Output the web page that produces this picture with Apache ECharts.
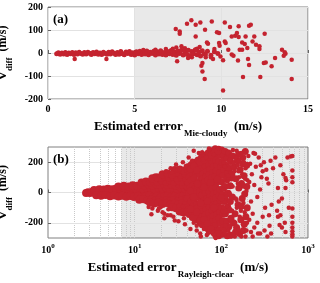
<!DOCTYPE html>
<html><head><meta charset="utf-8">
<script src="https://cdn.jsdelivr.net/npm/echarts@6/dist/echarts.min.js"></script>
<style>html,body{margin:0;padding:0;background:#fff}#c{width:320px;height:283px}</style>
</head><body><div id="c"></div>
<script>
// ---------- data ----------
const xTicksA = [0, 5, 10, 15];
const yTicksA = [-200, -100, 0, 100, 200];
const yTicksB = [-200, 0, 200];
const shadeA = [5, 15];
const shadeB = [7, 1000];
const minorGridB = [2,3,4,5,6,7,8,9,10,20,30,40,50,60,70,80,90,100,200,300,400,500,600,700,800,900];

// panel (a): dense band of points
const aBand = [
[0.5,-3],[0.6,1],[0.7,-5],[0.8,0],[0.9,-4],[1.0,2],[1.1,-6],[1.2,0],[1.3,-3],[1.4,2],[1.5,-6],[1.6,1],[1.7,-4],[1.8,3],[1.9,-2],[2.0,-5],
[2.1,2],[2.2,-4],[2.3,3],[2.4,-1],[2.5,-6],[2.6,2],[2.7,-3],[2.8,4],[2.9,-5],[3.0,0],[3.1,-6],[3.2,3],[3.3,-2],[3.4,-5],[3.5,3],[3.6,-4],
[3.7,5],[3.8,-1],[3.9,-6],[4.0,2],[4.1,-5],[4.2,6],[4.3,-3],[4.4,-8],[4.5,4],[4.6,-2],[4.7,7],[4.8,-6],[4.9,1],[5.0,-9],[5.1,5],[5.2,-3],
[5.3,8],[5.4,-7],[5.5,2],[5.6,-4],[5.7,9],[5.8,-8],[5.9,3],[6.0,-2],[6.1,8],[6.2,-9],[6.3,5],[6.4,-4],[6.5,10],[6.6,-6],[6.7,2],[6.8,-9],
[6.9,7],[7.0,-3],[7.1,11],[7.2,-7],[7.3,4],[7.4,-10],[7.5,9],[7.6,-2],[7.7,12],[7.8,-9],[7.9,5],[8.0,-5],[8.1,12],[8.2,-11],[8.3,7],[8.4,-3],
[8.5,14],[8.6,-8],[8.7,4],[8.8,-13],[8.9,10],[9.0,-4],[9.2,8],[9.4,-10],[9.6,5],[9.8,-2]
];
// panel (a): scattered points
const aScatter = [
[1.54,-26],[3.37,-26],[5.5,13],[6.2,14],[6.8,17],[7.2,19],[7.9,21],[8.3,-19],[8.6,19],[9.1,-19],[9.6,17],
[8.02,127],[8.27,142],[8.52,123],[8.79,133],[9.45,137],[10.2,133],[7.37,104],[7.6,94],[7.6,84],[8.52,72],
[9.06,101],[9.75,90],[9.87,87],[10.5,113],[11.0,116],[11.6,119],[11.7,123],[10.9,87],[10.8,75],[10.6,72],
[11.0,70],[11.4,72],[11.9,72],[12.5,84],[10.2,50],[10.25,43],[9.17,46],[9.23,40],[9.87,43],[9.9,32],
[11.2,46],[11.35,39],[11.8,50],[12.0,36],[12.2,29],[11.5,22],[11.06,14],[11.2,14],[12.2,17],[10.4,14],
[13.5,14],[13.66,3],[13.7,-3],[13.6,-12],[13.1,-22],[14.06,-29],[12.45,-43],[12.56,-41],[12.9,-58],
[11.54,-26],[11.6,-52],[10.96,-33],[10.6,-7],[10.7,-12],[10.1,-32],[9.95,-15],[8.91,-43],[8.85,-55],
[8.91,-80],[9.04,-113],[11.25,-104],[12.25,-104],[14.06,-113],[10.1,-163],[7.45,-36],[8.08,-22],
[9.52,-26],[9.1,-8],[9.4,-18],[7.7,29],[7.4,24],[8.75,26],[8.52,14]
];

// panel (b): dense core (x < ~45)
const bCore = [
[2.75,-3],[2.9,2],[3.05,-4],[3.2,3],[3.4,-2],[3.6,5],[3.8,-1],[4.0,3],[4.25,-4],[4.5,6],[4.8,-2],[5.1,4],[5.4,-5],[5.7,3],[6.0,-1],
[6.4,5],[6.8,-4],[7.2,2],[7.7,-6],[8.2,4],[8.7,0],[9.3,-3],[9.9,6],[10.5,-5],[11.2,2],[12,-4],[12.8,7],[13.6,-2],[14.5,3],[15.5,-6],
[16.5,5],[17.6,-1],[18.8,-4],[20,8],[21.5,-3],[23,2],[24.5,-7],[26,4],[28,-2],[30,6],[32,-5],[34,3],[37,-8],[40,2],
[3.4,17],[3.9,22],[4.4,19],[4.9,25],[5.5,21],[6.1,27],[6.8,23],[7.6,28],[8.4,24],[9.3,30],[10.3,26],[11.4,29],[12.6,24],[14,31],
[15.5,27],[17,22],[19,30],[21,26],[23,33],[25.5,25],[28,29],[31,23],[34,32],[38,27],[42,24],
[3.6,-18],[4.1,-21],[4.6,-17],[5.2,-24],[5.8,-20],[6.5,-26],[7.2,-22],[8,-28],[8.9,-23],[9.8,-30],[10.9,-25],[12,-31],[13.3,-26],
[14.8,-22],[16.3,-29],[18,-24],[20,-32],[22,-27],[24,-23],[26.5,-30],[29,-26],[32,-33],[36,-24],[40,-28],
[6.5,40],[7.5,44],[8.5,40],[9.5,47],[10.6,44],[11.8,50],[13,46],[14.5,53],[16,48],[17.8,55],[19.6,50],[21.8,57],[24,49],[26.5,54],[29.5,47],
[32.5,56],[36,51],[40,45],[45,53],
[11.3,-48],[12.6,-45],[14,-52],[15.6,-48],[17.3,-55],[19.1,-50],[21.2,-57],[23.4,-51],[25.8,-56],[28.5,-49],
[31.5,-58],[35,-52],[39,-47],[44,-55],
[12,66],[13.5,72],[15,68],[16.5,76],[18.5,70],[20.5,78],[23,72],[25.5,80],[28.5,73],[32,79],[36,70],[40,77],
[16,94],[18,100],[20,96],[22.5,104],[25,98],[28,102],[31,95],[35,103],[39,97],
[21,120],[24,126],[27,118],[30.5,128],[34,121],[38,127],
[29,148],[33,152],[37,145],[41,155],
[15,-66],[16.8,-72],[18.8,-68],[21,-75],[23.5,-70],[26,-78],[29,-72],[32,-77],[35.5,-70],[39.5,-76],
[27,-98],[30,-104],[33.5,-97],[37,-105],[41,-100],
[33,-125],[37,-130],[41,-124]
];
// panel (b): dense middle (x ~ 40-200)
const bMid = [
[41,170],[43,135],[42.5,100],[41.5,65],[43.5,30],[42,-5],[40.5,-40],[43,-75],[41.8,-110],[42.6,-145],
[45,185],[47.5,150],[46.5,118],[44.8,82],[47,48],[45.5,12],[46.8,-22],[44.5,-58],[47.2,-92],[45.8,-128],[46.3,-165],
[49,200],[51.5,165],[50.5,130],[48.5,96],[52,60],[49.5,25],[51,-10],[48.8,-45],[51.8,-80],[50.2,-115],[49.2,-150],[51.2,-182],
[54,215],[56.5,180],[53.5,145],[57,110],[55.5,75],[53.8,40],[56,5],[54.5,-30],[57.2,-65],[53.6,-100],[55.8,-135],[54.2,-170],[56.8,-198],
[59,232],[61.5,196],[58.5,160],[62,124],[60.5,90],[58.8,54],[61,18],[59.5,-18],[62.2,-54],[58.6,-90],[60.8,-125],[59.2,-160],[61.8,-195],[60.2,-212],
[64.5,248],[67.5,212],[65,176],[68,140],[66.5,104],[64.2,68],[67,32],[65.5,-4],[68.2,-40],[64.8,-76],[66.8,-112],[65.2,-148],[67.8,-184],[66,-226],
[70.5,262],[73.5,226],[71,190],[74,154],[72.5,118],[70.2,82],[73,46],[71.5,10],[74.2,-26],[70.8,-62],[72.8,-98],[71.2,-134],[73.8,-170],[72,-206],[70.6,-242],
[77,276],[80.5,240],[78,204],[81,168],[79.5,132],[77.2,96],[80,60],[78.5,24],[81.2,-12],[77.8,-48],[79.8,-84],[78.2,-120],[80.8,-156],[79,-192],[77.6,-228],[80.2,-258],
[85,288],[88.5,250],[86,214],[89,178],[87.5,142],[85.2,106],[88,70],[86.5,34],[89.2,-2],[85.8,-38],[87.8,-74],[86.2,-110],[88.8,-146],[87,-182],[85.6,-218],[88.2,-254],[86.8,-285],
[93,285],[97,245],[94,205],[98,170],[95.5,130],[92.5,95],[96.5,20],[94.5,-20],[97.5,-55],[93.5,-95],[96,-130],[94.2,-170],[97.8,-205],[95,-245],[93.2,-285],
[101,280],[106,238],[103,198],[107,150],[104.5,112],[100.5,70],[105.5,28],[102.5,-15],[107.5,-60],[101.5,-100],[105,-142],[103.5,-186],[106.5,-230],[102,-275],
[111,270],[117,225],[113,180],[118,128],[115,85],[110.5,40],[116,-8],[112.5,-52],[118.5,-96],[111.5,-140],[115.5,-190],[113.5,-240],[117,-285],
[121,260],[128,205],[124,150],[130,95],[126,45],[120,-5],[127,-60],[123,-115],[129,-170],[122,-225],[126.5,-280],
[44,155],[44,-110],[48,175],[48,-165],[52,-130],[52,147],[57,200],[57,-185],[63,215],[63,-178],[69,230],[69,-205],[76,245],[76,-240],
[83,262],[83,-268],[91,272],[91,-270],[44,12],[48,-28],[53,58],[58,-70],[63,35],[69,-58],[75,66],[82,-100],[90,88],[100,-35],[108,-120],[120,165],
[135,240],[138,-200],[141,170],[144,-140],[147,90],[150,-230],[153,210],[156,-80],[159,30],[162,-270],[165,150],[168,-180],[171,60],
[174,-40],[177,230],[180,-250],[183,110],[186,-10],[189,270],[192,-160],[196,180],[199,-100],[134,-30],[146,-260],[158,250],[170,-90],
[184,-210],[197,40],[132,120],[176,190]
];
// panel (b): scattered points
const bScatter = [
[15.6,-144],[19,-105],[16,-105],[18.5,-120],[20,-95],[22,-140],[24.5,-110],[26,-150],[14.5,-95],
[17,110],[21,-130],[23,140],[18,85],[24,-150],[22,-170],
[26,160],[28,-160],[30,185],[32,-190],[27,130],[33,150],[35,-140],[36,200],[38,-210],[29,-185],[31,120],[34,-125],[39,175],[37,-170],
[42,230],[44,-240],[46,210],[48,-200],[52,-220],[55,260],[57,-270],[58,-290],[48,275],[52,-250],[60,265],
[62,220],[63,-240],[67,233],[68,-280],[72,290],[82,250],[84,-280],[86,-300],[92,290],[70,-270],
[102,245],[104,-280],[106,200],[108,-150],[110,170],[112,-220],[114,130],[116,-90],[118,260],[120,-250],[122,90],[124,-60],[126,220],
[128,-180],[130,50],[133,-120],[136,280],[139,-270],[142,140],[145,-200],[148,230],[151,-100],[154,180],[157,-240],[160,100],
[163,-160],[166,250],[170,-290],[174,120],[178,-210],[182,200],[186,-130],[190,160],[195,-250],[200,80],[105,20],[115,-30],
[125,-10],[135,40],[150,-50],[165,30],[180,-70],[195,10],[110,-270],[130,-290],[150,275],[170,260],[190,-290],[120,110],[140,-150],
[160,210],[180,40],[107,-100],[117,75],[127,-220],[137,195],[147,-40],[158,140],[168,-120],[188,90],[198,-200],[143,-290],[155,60],
[205,240],[210,-180],[215,190],[220,-260],[225,120],[230,-140],[235,260],[240,-230],[250,170],[260,-200],[270,230],[280,-270],
[290,100],[300,-160],[310,200],[320,-100],[330,150],[340,-290],[350,60],[360,-220],[370,210],[380,-80],[240,50],[260,-30],
[280,20],[300,140],[220,-60],[245,255],[265,-270],[285,180],[315,-250],[335,90],[355,-150],[375,-270],[395,160],[210,70],[230,-290],
[420,230],[440,-120],[460,-60],[480,180],[500,-230],[520,120],[540,-200],[560,80],[580,230],[630,238],[550,95],[550,30],
[450,-160],[480,-150],[470,-215],[600,-100],[450,30],[500,-40],[550,-260],
[660,240],[660,145],[660,100],[660,68],[660,-105],[660,-160],[660,-200],[660,-230],[660,-255],[660,-275],[660,-290]
];

// ---------- chart ----------
const SERIF = '"Liberation Serif", "DejaVu Serif", serif';
const RED = '#c4232f';
const labelStyle = {fontFamily: SERIF, fontWeight: 'bold', fontSize: 10, color: '#000'};
const tickStyle = {show: true, inside: true, length: 3, lineStyle: {color: '#666', width: 1}};
const gridLine = {show: true, lineStyle: {color: '#e2e2e2', width: 1}};
const dotStyle = {color: RED, opacity: 1, borderWidth: 0};

function xName(sub) {
  return '{t|Estimated error}{s|' + sub + '}{t|  (m/s)}';
}
const xNameRich = {
  t: {fontFamily: SERIF, fontWeight: 'bold', fontSize: 13, color: '#000'},
  s: {fontFamily: SERIF, fontWeight: 'bold', fontSize: 9, color: '#000', padding: [14, 0, 0, 1]}
};
const yNameText = '{v|V}{s|diff}{u|  (m/s)}';
const yNameRich = {
  v: {fontFamily: SERIF, fontWeight: 'bold', fontSize: 13, color: '#000'},
  s: {fontFamily: SERIF, fontWeight: 'bold', fontSize: 9, color: '#000', padding: [13, 0, 0, 0]},
  u: {fontFamily: SERIF, fontWeight: 'bold', fontSize: 12, color: '#000'}
};

const chart = echarts.init(document.getElementById('c'), null, {renderer: 'canvas'});
chart.setOption({
  animation: false,
  backgroundColor: '#fff',
  grid: [
    {left: 48, top: 7, width: 260, height: 92, show: true, borderColor: '#808080', borderWidth: 1, backgroundColor: '#fff',
     containLabel: false, outerBoundsMode: 'none'},
    {left: 48, top: 147, width: 260, height: 91, show: true, borderColor: '#808080', borderWidth: 1, backgroundColor: '#fff',
     containLabel: false, outerBoundsMode: 'none'}
  ],
  xAxis: [
    {gridIndex: 0, type: 'value', min: xTicksA[0], max: xTicksA[xTicksA.length - 1], interval: 5, z: 1.5,
     axisLine: {show: false}, axisTick: tickStyle, axisLabel: Object.assign({margin: 5}, labelStyle),
     splitLine: gridLine,
     name: xName('Mie-cloudy'), nameLocation: 'middle', nameGap: 16,
     nameTextStyle: {rich: xNameRich}},
    {gridIndex: 1, type: 'log', logBase: 10, min: 1, max: 1000, z: 1.5,
     axisLine: {show: false}, axisTick: tickStyle,
     axisLabel: {margin: 5, formatter: function (v) {
        return '{b|10}{e|' + Math.round(Math.log10(v)) + '}';
      }, rich: {
        b: {fontFamily: SERIF, fontWeight: 'bold', fontSize: 10, color: '#000'},
        e: {fontFamily: SERIF, fontWeight: 'bold', fontSize: 7, color: '#000', padding: [0, 0, 8, 0]}
      }},
     splitLine: {show: false},
     name: xName('Rayleigh-clear'), nameLocation: 'middle', nameGap: 18,
     nameTextStyle: {rich: xNameRich}}
  ],
  yAxis: [
    {gridIndex: 0, type: 'value', min: yTicksA[0], max: yTicksA[yTicksA.length - 1], interval: 100, z: 1.5,
     axisLine: {show: false}, axisTick: tickStyle, axisLabel: Object.assign({margin: 5}, labelStyle),
     splitLine: gridLine,
     name: yNameText, nameLocation: 'middle', nameRotate: 90, nameGap: 34,
     nameTextStyle: {rich: yNameRich}},
    {gridIndex: 1, type: 'value', min: -300, max: 300, z: 1.5,
     axisLine: {show: false},
     axisTick: Object.assign({customValues: yTicksB}, tickStyle),
     axisLabel: Object.assign({margin: 5, customValues: yTicksB}, labelStyle),
     splitLine: gridLine,
     name: yNameText, nameLocation: 'middle', nameRotate: 90, nameGap: 34,
     nameTextStyle: {rich: yNameRich}}
  ],
  series: [
    {type: 'scatter', xAxisIndex: 0, yAxisIndex: 0, z: 1, data: [], silent: true,
     markArea: {silent: true, z: 1, itemStyle: {color: 'rgba(0,0,0,0.085)'},
       data: [[{xAxis: shadeA[0]}, {xAxis: shadeA[1]}]]}},
    {type: 'scatter', xAxisIndex: 1, yAxisIndex: 1, z: 1, data: [], silent: true,
     markArea: {silent: true, z: 1, itemStyle: {color: 'rgba(0,0,0,0.085)'},
       data: [[{xAxis: shadeB[0]}, {xAxis: shadeB[1]}]]},
     markLine: {silent: true, z: 1, symbol: 'none', label: {show: false},
       lineStyle: {color: '#c9c9c9', type: 'dotted', width: 1},
       data: minorGridB.map(v => ({xAxis: v}))}},
    {type: 'scatter', xAxisIndex: 0, yAxisIndex: 0, data: aBand, symbolSize: 5, itemStyle: dotStyle},
    {type: 'scatter', xAxisIndex: 0, yAxisIndex: 0, data: aScatter, symbolSize: 4.5, itemStyle: dotStyle},
    {type: 'scatter', xAxisIndex: 1, yAxisIndex: 1, data: bCore, symbolSize: 8, itemStyle: dotStyle},
    {type: 'scatter', xAxisIndex: 1, yAxisIndex: 1, data: bMid, symbolSize: 7, itemStyle: dotStyle},
    {type: 'scatter', xAxisIndex: 1, yAxisIndex: 1, data: bScatter, symbolSize: 4.5, itemStyle: dotStyle}
  ],
  graphic: [
    {type: 'text', left: 53, top: 13, z: 10,
     style: {text: '(a)', fontFamily: SERIF, fontWeight: 'bold', fontSize: 13, fill: '#000'}},
    {type: 'text', left: 53, top: 153, z: 10,
     style: {text: '(b)', fontFamily: SERIF, fontWeight: 'bold', fontSize: 13, fill: '#000'}}
  ]
});
</script>
</body></html>
